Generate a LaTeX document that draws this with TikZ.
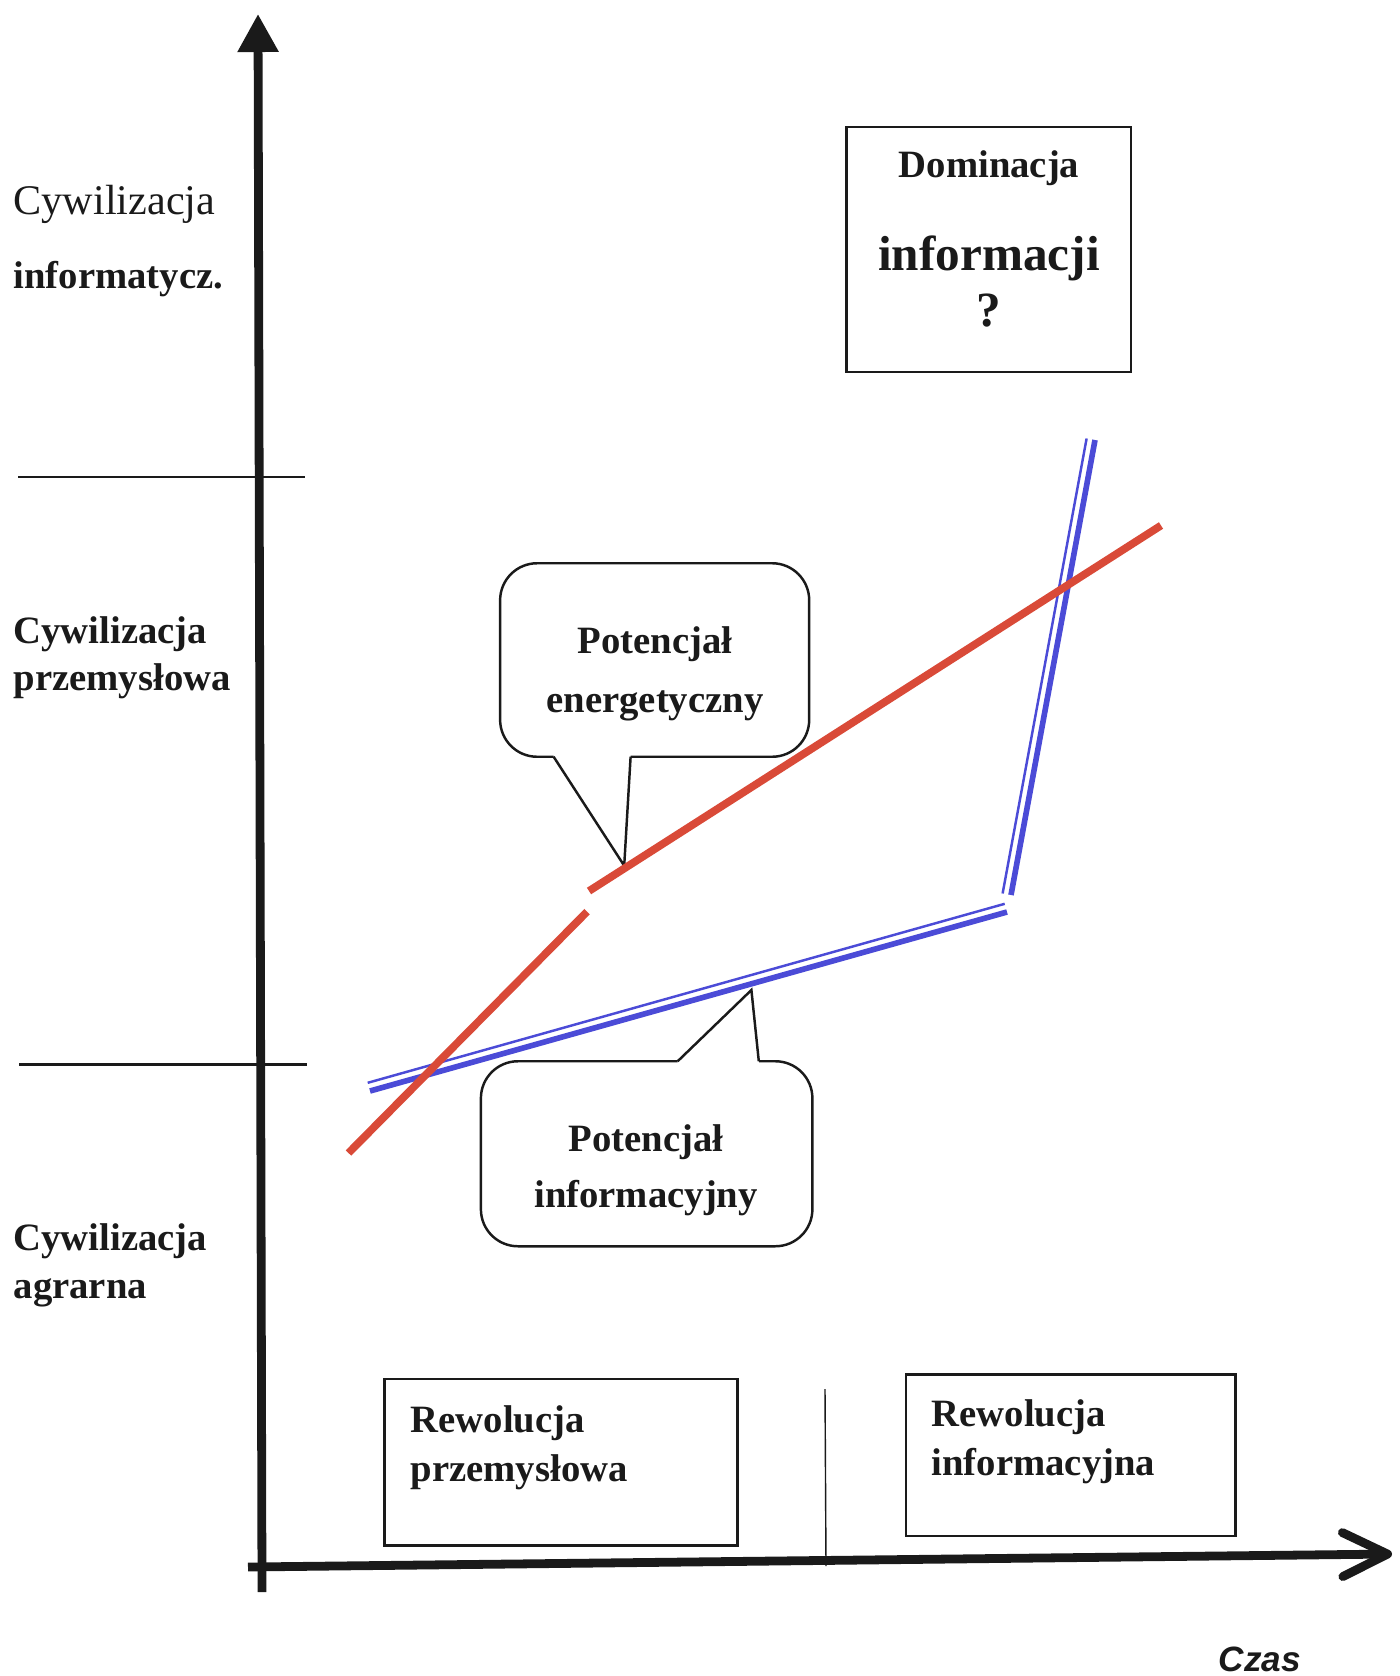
\documentclass[tikz,border=0pt]{standalone}
\usepackage{fontspec}
\setmainfont{Liberation Serif}
\setsansfont{Liberation Sans}
\usepackage{tikz}
\usetikzlibrary{calc,arrows.meta}
\definecolor{ink}{HTML}{1A1A1A}
\definecolor{energy}{HTML}{D94A38}
\definecolor{infoblue}{HTML}{4B4BD7}
\tikzset{
  axisline/.style={draw=ink, line width=2.5pt},
  rule/.style={draw=ink, line width=0.6pt},
  boxline/.style={draw=ink, line width=0.7pt},
  bubble/.style={draw=ink, line width=0.7pt, rounded corners=0.37cm},
  energ/.style={draw=energy, line width=2.2pt},
  infothick/.style={draw=infoblue, line width=1.6pt},
  infothin/.style={draw=infoblue, line width=0.7pt},
  lab/.style={text=ink, font=\fontsize{11}{13}\selectfont\bfseries, inner sep=0pt},
  big/.style={text=ink, font=\fontsize{14}{16}\selectfont\bfseries, inner sep=0pt},
  note/.style={text=ink, font=\fontsize{12}{14}\selectfont, inner sep=0pt},
}
\begin{document}
\begin{tikzpicture}[x=0.01cm, y=-0.01cm]
  \useasboundingbox (0,0) rectangle (1399,1676);

  % axes
  \coordinate (ybot) at (262,1592);
  \coordinate (ytop) at (258,14);
  \coordinate (xleft) at (248,1567);
  \coordinate (xright) at (1392,1554);
  \draw[axisline, -{Triangle[length=0.38cm,width=0.39cm]}] (ybot) -- (ytop);
  \draw[axisline, -{Straight Barb[length=0.45cm,width=0.44cm,round]}] (xleft) -- (xright);
  \node[font=\sffamily\bfseries\itshape\fontsize{10}{12}\selectfont, text=ink, inner sep=0pt, anchor=base] (czas) at (1260,1671) {Czas};

  % civilisation bands
  \draw[rule] (18,477) -- (305,477);
  \draw[rule] (19,1064.5) -- (307,1064.5);
  \node[note, anchor=base west] (cinf) at (13,215) {Cywilizacja};
  \node[lab, anchor=base west] (cinf2) at (13,288) {informatycz.};
  \node[lab, anchor=base west] (cprz) at (13,643) {Cywilizacja};
  \node[lab, anchor=base west] (cprz2) at (13,690) {przemysłowa};
  \node[lab, anchor=base west] (cagr) at (13,1250) {Cywilizacja};
  \node[lab, anchor=base west] (cagr2) at (13,1298) {agrarna};

  % dominacja box
  \node[boxline, minimum width=2.843cm, minimum height=2.447cm] (dom) at (988.65,249.55) {};
  \node[lab, anchor=base] (domt) at (989,178) {Dominacja};
  \node[big, anchor=base] (domi) at (989,270) {informacji};
  \node[big, anchor=base] (domq) at (989,326) {?};

  % callout: energia
  \node[bubble, minimum width=3.089cm, minimum height=1.934cm] (energbox) at (654.65,660) {};
  \coordinate (ebl) at (553.6,756.7);
  \coordinate (ebr) at (630.6,756.7);
  \coordinate (etip) at (624.2,865.7);
  \fill[white] ($(ebl)+(0,-3)$) -- (ebl) -- (etip) -- (ebr) -- ($(ebr)+(0,-3)$) -- cycle;
  \draw[boxline] (ebl) -- (etip) -- (ebr);
  \node[lab, anchor=base] (epot) at (655,653) {Potencjał};
  \node[lab, anchor=base] (eene) at (655,712) {energetyczny};

  % callout: informacja
  \node[bubble, minimum width=3.313cm, minimum height=1.849cm] (infobox) at (646.65,1153.75) {};
  \coordinate (ibl) at (677.6,1061.3);
  \coordinate (ibr) at (758.8,1061.3);
  \coordinate (itip) at (751.4,990);
  \fill[white] ($(ibl)+(0,3)$) -- (ibl) -- (itip) -- (ibr) -- ($(ibr)+(0,3)$) -- cycle;
  \draw[boxline] (ibl) -- (itip) -- (ibr);
  \node[lab, anchor=base] (ipot) at (646,1151) {Potencjał};
  \node[lab, anchor=base] (iinf) at (646,1207) {informacyjny};

  % potencjal informacyjny (double line)
  \coordinate (b0) at (370,1091);
  \coordinate (b1) at (1007,912);
  \coordinate (b2) at (1011,895);
  \coordinate (b3) at (1095,440);
  \draw[infothick] (b0) -- (b1);
  \draw[infothin] ($(b0)+(-2.3,-8.2)$) -- ($(b1)+(-2.3,-8.2)$);
  \draw[infothick] (b2) -- (b3);
  \draw[infothin] ($(b2)+(-8.4,-1.5)$) -- ($(b3)+(-8.4,-1.5)$);

  % potencjal energetyczny
  \coordinate (r0) at (348.5,1153);
  \coordinate (r1) at (587,911.7);
  \coordinate (r2) at (589,891);
  \coordinate (r3) at (1161,525.5);
  \draw[energ] (r0) -- (r1);
  \draw[energ] (r2) -- (r3);

  % rewolucje
  \draw[rule, line width=0.4pt] (825,1389) -- (826,1566);
  \node[boxline, minimum width=3.527cm, minimum height=1.667cm] (revprz) at (561.15,1462.15) {};
  \node[lab, anchor=base west] (rp1) at (410,1432) {Rewolucja};
  \node[lab, anchor=base west] (rp2) at (410,1481) {przemysłowa};
  \node[boxline, minimum width=3.292cm, minimum height=1.614cm] (revinf) at (1070.9,1455.2) {};
  \node[lab, anchor=base west] (ri1) at (931,1426) {Rewolucja};
  \node[lab, anchor=base west] (ri2) at (931,1475) {informacyjna};
\end{tikzpicture}
\end{document}
